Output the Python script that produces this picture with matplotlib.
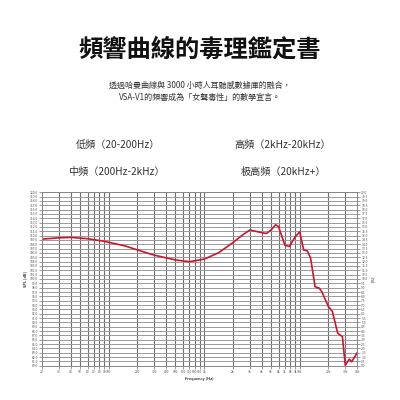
import matplotlib
matplotlib.use("Agg")
import matplotlib.pyplot as plt
from matplotlib.ticker import FixedLocator, NullLocator

plt.rcParams['font.family'] = ['Noto Sans CJK TC', 'DejaVu Sans']

title = "頻響曲線的毒理鑑定書"
subtitle1 = "透過哈曼曲線與 3000 小時人耳聽感數據庫的融合，"
subtitle2 = "VSA-V1的頻響成為「女聲毒性」的數學宣言。"
band_labels = ["低頻（20-200Hz）", "高頻（2kHz-20kHz）", "中頻（200Hz-2kHz）", "极高頻（20kHz+）"]

freq = [20, 30, 40, 60, 90, 150, 200, 300, 500, 700, 900, 1000, 1400, 2000, 2500,
        3000, 4000, 4500, 5000, 5600, 6000, 7000, 7800, 9000, 10000, 11000, 12000,
        13000, 14500, 16000, 17000, 20000, 22000, 25000, 28000, 30000, 33000, 35000, 40000]
spl = [109.2, 109.5, 109.6, 109.3, 108.7, 107.6, 106.7, 105.5, 104.4, 104.0, 104.4, 104.6, 106.0, 108.4, 110.1,
       111.3, 110.7, 110.5, 111.3, 112.5, 112.1, 107.8, 107.5, 109.8, 110.9, 106.7, 106.5,
       104.8, 98.2, 97.9, 97.1, 93.6, 92.5, 87.5, 86.7, 80.1, 81.5, 80.9, 83.0]

xticks = [20, 30, 40, 50, 60, 70, 80, 90, 100, 200, 300, 400, 500, 600, 700, 800, 900,
          1000, 2000, 3000, 4000, 5000, 6000, 7000, 8000, 9000, 10000, 20000, 30000, 40000]
xticklabels = ["20", "30", "40", "50", "60", "70", "80", "90", "100", "200", "300", "400", "500",
               "600", "700", "800", "900", "1k", "2k", "3k", "4k", "5k", "6k", "7k", "8k", "9k",
               "10k", "20k", "30k", "40k"]
left_ticks = list(range(80, 121))
right_ticks = [i * 0.5 for i in range(41)]

fig = plt.figure(figsize=(4, 4), dpi=100)
fig.patch.set_facecolor("white")

fig.text(0.5, 0.875, title, ha="center", va="center", fontsize=17.5, fontweight="heavy", color="#111111")
fig.text(0.5, 0.787, subtitle1, ha="center", va="center", fontsize=5.8, color="#333333")
fig.text(0.5, 0.757, subtitle2, ha="center", va="center", fontsize=5.8, color="#333333")

fig.text(0.295, 0.637, band_labels[0], ha="center", va="center", fontsize=7.3, color="#333333")
fig.text(0.708, 0.637, band_labels[1], ha="center", va="center", fontsize=7.3, color="#333333")
fig.text(0.29, 0.570, band_labels[2], ha="center", va="center", fontsize=7.3, color="#333333")
fig.text(0.708, 0.570, band_labels[3], ha="center", va="center", fontsize=7.3, color="#333333")

ax = fig.add_axes([0.105, 0.0858, 0.788, 0.4334])
ax.set_xscale("log")
ax.set_xlim(20, 40000)
ax.set_ylim(80, 120)

ax.xaxis.set_major_locator(FixedLocator(xticks))
ax.xaxis.set_minor_locator(NullLocator())
ax.set_xticklabels(xticklabels)
ax.set_yticks(left_ticks)
ax.set_yticklabels([f"{v:.1f}" for v in left_ticks])
ax.tick_params(axis="both", labelsize=2.4, length=2, width=0.4, colors="#555555", pad=1)

ax.grid(True, axis="x", color="#6e6e6e", linewidth=0.8)
ax.grid(True, axis="y", color="#9a9a9a", linewidth=0.7)
for s in ax.spines.values():
    s.set_color("#888888")
    s.set_linewidth(0.6)

ax.plot(freq, spl, color="#d0142c", linewidth=1.2, solid_joinstyle="round")

ax.set_xlabel("Frequency (Hz)", fontsize=2.8, fontweight="bold", labelpad=2.5, color="#333333")
ax.set_ylabel("SPL [dB]", fontsize=2.8, fontweight="bold", labelpad=1.5, color="#333333")

ax2 = ax.twinx()
ax2.set_ylim(0, 20)
ax2.set_yticks(right_ticks)
ax2.set_yticklabels([f"{v:.1f}" for v in right_ticks])
ax2.tick_params(axis="y", labelsize=2.4, length=2, width=0.4, colors="#555555", pad=1)
ax2.set_ylabel("[%]", fontsize=2.8, fontweight="bold", labelpad=2, color="#333333")
for s in ax2.spines.values():
    s.set_color("#888888")
    s.set_linewidth(0.6)

fig.savefig("out.png", dpi=100, facecolor="white")
